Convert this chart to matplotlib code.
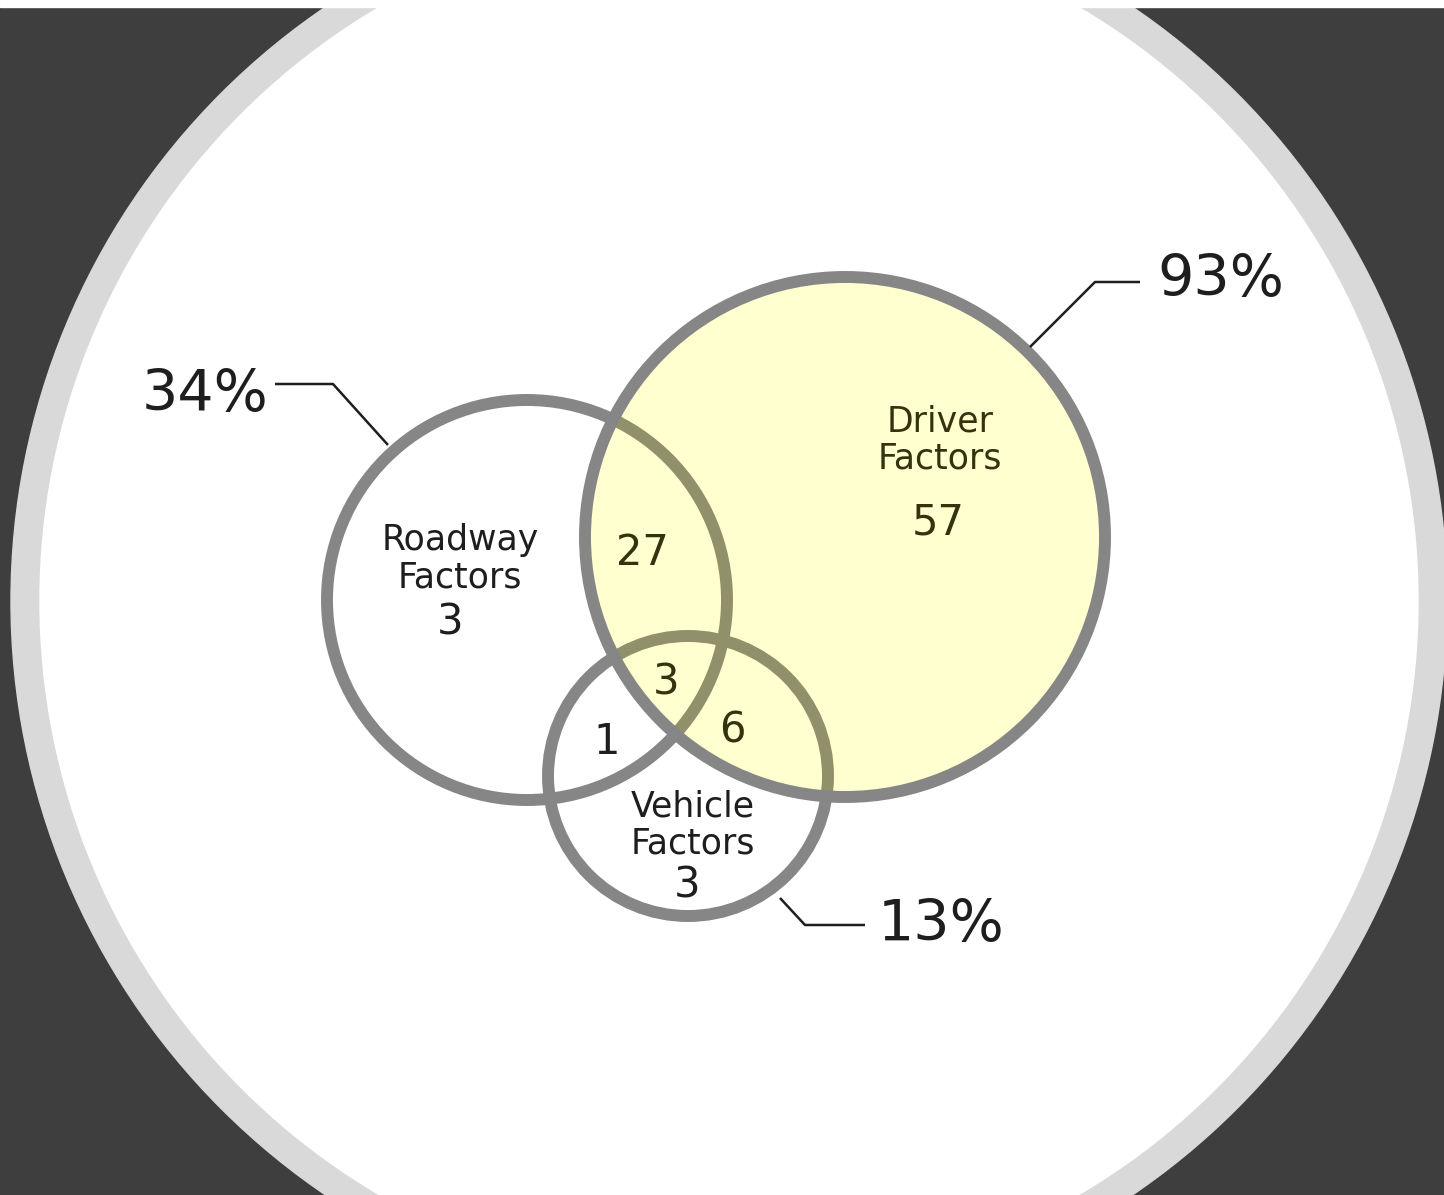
import matplotlib.pyplot as plt
from matplotlib.patches import Circle, Rectangle

# region counts of the three-set diagram
set_names = ["Roadway\nFactors", "Driver\nFactors", "Vehicle\nFactors"]
only_counts = [3, 57, 3]
roadway_driver = 27
roadway_vehicle = 1
driver_vehicle = 6
all_three = 3
set_percents = [34, 93, 13]

# layout in pixel space (x, y, radius), y grows downward
circles = [(527, 600, 200), (845, 537, 260), (688, 776, 140)]

BG = "#3e3e3e"
RING = "#d9d9d9"
OUTLINE = "#868686"
OLIVE = "#90906a"
YELLOW = "#ffffd0"
DARK = "#1e1e1e"
DARK_OLIVE = "#33330f"
LW = 8.6

fig = plt.figure(figsize=(14.44, 11.95), dpi=100, facecolor=BG)
ax = fig.add_axes([0, 0, 1, 1])
ax.set_xlim(0, 1444)
ax.set_ylim(1195, 0)
ax.set_aspect("equal")
ax.axis("off")

# backdrop: ringed white disc with a thin white band on top
ax.add_patch(Circle((729, 601), 718, color=RING, zorder=0))
ax.add_patch(Circle((729, 601), 689, color="white", zorder=0))
ax.add_patch(Rectangle((0, 0), 1444, 7, color="white", zorder=0))

road, driver, vehicle = circles

for cx, cy, r in (road, vehicle):
    ax.add_patch(Circle((cx, cy), r, fill=False, ec=OUTLINE, lw=LW, zorder=2))

ax.add_patch(Circle(driver[:2], driver[2], fc=YELLOW, ec="none", zorder=3))

# the other outlines show through the yellow as olive
clip = Circle(driver[:2], driver[2], transform=ax.transData)
for cx, cy, r in (road, vehicle):
    c = Circle((cx, cy), r, fill=False, ec=OLIVE, lw=LW, zorder=4)
    ax.add_patch(c)
    c.set_clip_path(clip)

ax.add_patch(Circle(driver[:2], driver[2], fill=False, ec=OUTLINE, lw=LW, zorder=5))

# set names and the counts for each region
name_fs = 25
num_fs = 30
ls = 1.12
ax.text(460, 559, set_names[0], ha="center", va="center", fontsize=name_fs,
        color=DARK, linespacing=ls, zorder=6)
ax.text(450, 622, str(only_counts[0]), ha="center", va="center",
        fontsize=num_fs, color=DARK, zorder=6)
ax.text(940, 440, set_names[1], ha="center", va="center", fontsize=name_fs,
        color=DARK_OLIVE, linespacing=ls, zorder=6)
ax.text(938, 522, str(only_counts[1]), ha="center", va="center",
        fontsize=num_fs, color=DARK_OLIVE, zorder=6)
ax.text(693, 825, set_names[2], ha="center", va="center", fontsize=name_fs,
        color=DARK, linespacing=ls, zorder=6)
ax.text(687, 885, str(only_counts[2]), ha="center", va="center",
        fontsize=num_fs, color=DARK, zorder=6)

ax.text(642, 553, str(roadway_driver), ha="center", va="center",
        fontsize=num_fs, color=DARK_OLIVE, zorder=6)
ax.text(666, 682, str(all_three), ha="center", va="center",
        fontsize=num_fs, color=DARK_OLIVE, zorder=6)
ax.text(607, 742, str(roadway_vehicle), ha="center", va="center",
        fontsize=num_fs, color=DARK, zorder=6)
ax.text(732, 730, str(driver_vehicle), ha="center", va="center",
        fontsize=num_fs, color=DARK_OLIVE, zorder=6)

# percentage callouts with elbow leader lines
leaders = [
    ([388, 333, 275], [445, 384, 384], (268, 395), "right"),
    ([1030, 1095, 1140], [347, 282, 282], (1157, 280), "left"),
    ([780, 805, 865], [898, 925, 925], (878, 925), "left"),
]
for pct, (xs, ys, (tx, ty), ha) in zip(set_percents, leaders):
    ax.plot(xs, ys, color=DARK, lw=1.8, zorder=6, solid_capstyle="butt")
    ax.text(tx, ty, f"{pct}%", ha=ha, va="center", fontsize=41, color=DARK,
            zorder=6)

fig.savefig("out.png", dpi=100, facecolor=BG)
